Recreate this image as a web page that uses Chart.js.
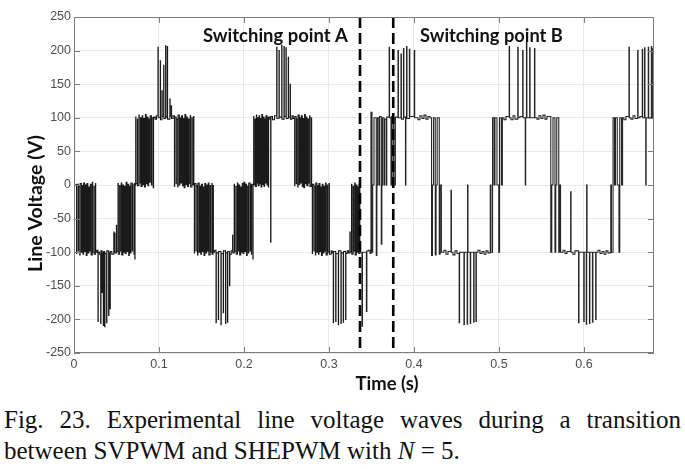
<!DOCTYPE html>
<html><head><meta charset="utf-8">
<script src="https://cdn.jsdelivr.net/npm/chart.js@4.4.1/dist/chart.umd.min.js"></script>
<style>
html,body{margin:0;padding:0;background:#fff;width:685px;height:469px;overflow:hidden;}
#wrap{position:absolute;left:0;top:0;width:685px;height:400px;}
#cap{position:absolute;left:4px;top:404px;width:677px;font-family:'Liberation Serif','Times New Roman',serif;font-size:25px;line-height:31px;color:#111;text-align:justify;text-align-last:left;}
</style></head><body>
<div id="wrap"><canvas id="c" width="685" height="400"></canvas></div>
<div id="cap">Fig. 23. Experimental line voltage waves during a transition between SVPWM and SHEPWM with <i>N</i>&nbsp;=&nbsp;5.</div>
<script>
// ---- data (time in ms, line voltage in V; each pair = level reached at that instant) ----
const xTickValues = [0, 0.1, 0.2, 0.3, 0.4, 0.5, 0.6];
const yTickValues = [-250, -200, -150, -100, -50, 0, 50, 100, 150, 200, 250];
const timeRange = [0, 0.6824];
const voltRange = [-250, 250];
const switchPoints = [0.3365, 0.3756];
const switchLabels = ["Switching point A", "Switching point B"];

const svpwmEdges = [
[0,105],[0.6,0],
[3.0,-102],[3.2,1],[4.9,-98],[5.2,-2],[6.8,-104],[7.2,2],[8.7,-100],[9.3,-1],[10.6,-103],[11.3,3],[12.5,-99],[13.3,0],[14.4,-105],[15.3,2],[16.3,-101],[17.4,-3],[18.2,-98],[19.4,1],[20.1,-104],[21.5,4],[22.0,-100],[23.6,-2],[23.8,-103],[25.3,2],
[25.5,-100],[27.0,-97],[28.2,-203],[28.5,-100],[30.0,-103],[31.4,-206],[31.7,-98],[33.0,-160],[33.2,-101],[34.5,-209],[34.8,-99],[36.1,-211],[36.4,-102],[38.4,-205],[38.7,-98],[40.8,-194],[41.1,-101],[42.4,-184],[42.7,-99],[44.5,-103],[46.8,-70],[47.1,-100],
[48.0,-72],[48.2,-101],[49.9,-60],[50.2,-99],[51.8,2],[52.2,-103],[53.7,-1],[54.2,-98],[55.6,3],[56.2,-104],[57.5,0],[58.2,-100],[59.4,-2],[60.3,-102],[61.3,4],[62.3,-99],[63.2,1],[64.4,-105],[65.1,-2],[66.4,-101],[67.0,3],[68.5,-98],[68.9,0],[70.6,-103],[71.0,2],[71.6,-110],[71.8,0],
[72.6,101],[72.8,2],[74.5,98],[74.8,-1],[76.4,104],[76.8,3],[78.3,100],[78.9,-2],[80.2,103],[80.9,1],[82.1,99],[82.9,-3],[84.0,105],[84.9,2],[85.9,101],[87.0,-1],[87.8,98],[89.0,4],[89.7,103],[91.1,0],[91.6,100],[93.2,-4],[93.6,101],
[95.5,98],[97.0,103],[98.8,205],[99.1,100],[101.5,185],[101.8,97],[103.5,140],[103.8,102],[105.5,178],[105.8,99],[107.8,207],[108.1,101],[109.8,206],[110.1,98],[112.8,128],[113.1,102],[114.5,118],[114.8,99],[116.5,103],
[118.2,-2],[118.4,101],[120.1,2],[120.4,98],[122.0,-3],[122.4,104],[123.9,0],[124.5,100],[125.8,3],[126.5,103],[127.7,-1],[128.5,99],[129.6,-4],[130.5,105],[131.5,1],[132.6,101],[133.4,-2],[134.6,98],[135.3,2],[136.7,103],[137.2,-3],[138.8,100],[139.1,1],[140.6,102],[141.0,0],
[141.6,-101],[141.8,2],[143.5,-98],[143.8,-1],[145.4,-104],[145.8,3],[147.3,-100],[147.9,-2],[149.2,-103],[149.9,1],[151.1,-99],[151.9,-3],[153.0,-105],[153.9,2],[154.9,-101],[156.0,0],[156.8,-98],[158.0,3],[158.7,-104],[160.1,-1],[160.6,-100],[162.2,2],[162.5,-103],[163.6,-1],[164.0,-100],
[165.5,-97],[167.1,-205],[167.4,-101],[169.8,-200],[170.1,-99],[172.9,-208],[173.2,-102],[175.6,-190],[175.9,-98],[178.3,-206],[178.6,-101],[180.6,-204],[180.9,-99],[183.0,-150],[183.3,-103],[185.0,-98],
[186.6,-75],[186.8,-101],[188.5,1],[188.8,-99],[190.4,-2],[190.8,-103],[192.3,3],[192.9,-98],[194.2,0],[194.9,-104],[196.1,-3],[196.9,-100],[198.0,2],[198.9,-102],[199.9,4],[201.0,-99],[201.8,1],[203.0,-105],[203.7,-2],[205.1,-101],[205.6,3],[207.2,-98],[207.5,0],[208.8,-103],[209.0,1],[210.5,-110],[210.7,0],
[211.4,102],[211.6,1],[213.0,98],[213.3,-2],[214.6,104],[215.0,3],[216.2,100],[216.7,-1],[217.8,103],[218.4,2],[219.4,99],[220.1,-3],[221.0,105],[221.8,1],[222.6,101],[223.6,-2],[224.2,98],[225.3,3],[225.8,103],[227.1,0],[227.4,100],[228.7,-3],[229.0,101],
[230.5,98],[231.4,-85],[231.7,102],[233.5,97],[236.0,103],[238.5,205],[238.8,99],[241.2,200],[241.5,101],[244.4,208],[244.7,98],[247.1,206],[247.4,102],[249.4,204],[249.7,99],[252.1,190],[252.4,101],[254.3,150],[254.6,98],[256.5,103],[258.0,99],
[259.6,-1],[259.8,102],[261.4,2],[261.7,98],[263.2,-3],[263.6,104],[265.0,1],[265.6,100],[266.8,3],[267.5,103],[268.6,-2],[269.4,99],[270.4,-4],[271.3,105],[272.2,2],[273.3,101],[274.0,-1],[275.2,98],[275.8,3],[277.2,103],[277.6,-2],[279.2,100],[279.6,1],
[280.4,-102],[280.6,1],[282.2,-98],[282.5,-2],[284.0,-104],[284.4,3],[285.8,-100],[286.4,-1],[287.6,-103],[288.3,2],[289.4,-99],[290.2,-3],[291.2,-105],[292.1,1],[293.0,-101],[294.1,-2],[294.8,-98],[296.0,3],[296.6,-104],[298.0,0],[298.4,-100],[300.0,2],[300.5,-103],
[302.5,-98],[303.8,-101],[305.1,-205],[305.4,-99],[307.9,-203],[308.2,-102],[311.0,-208],[311.3,-98],[314.1,-206],[314.4,-101],[316.8,-204],[317.1,-99],[319.6,-200],[319.9,-102],[321.5,-98],
[323.0,-101],[324.6,-70],[324.9,-100],[326.5,1],[326.9,-103],[328.4,-2],[328.9,-98],[330.3,3],[330.9,-104],[332.2,0],[332.9,-100],[334.1,-3],[334.9,-102],[335.6,2],[336.3,-100]
];

const shepwmEdges = [
[336.5,-101],
[338.82,-210],[339.41,-100],[344.00,-188],[344.59,-98],[346.47,-97],[348.24,-102],
[349.41,108],[350.59,-100],[351.41,0],[352.94,100],[355.65,-105],[356.35,0],[357.18,100],
[358.82,0],[359.53,102],[361.53,-88],[362.24,0],[362.94,100],[364.71,0],[365.41,98],[367.29,0],[368.00,101],
[370.82,205],[371.29,100],[372.94,0],[373.53,102],[375.29,0],[375.88,99],[377.65,0],[378.12,101],
[381.18,200],[381.65,100],[384.71,195],[385.18,98],[387.65,203],[388.12,101],[390.00,0],[390.47,100],
[391.29,206],[391.76,99],[394.59,202],[395.06,102],[400.35,200],[400.82,100],
[404.71,97],[407.06,103],[409.41,99],[411.76,104],[414.12,98],[416.47,102],[418.82,100],
[420.71,-105],[421.76,0],[423.06,100],[425.06,-104],[426.00,0],[427.29,100],[429.76,-103],[430.82,0],[432.24,-100],
[435.29,-97],[437.65,-103],[440.00,-99],[443.53,-8],[444.00,-100],[445.88,-104],[448.24,-98],[450.59,-102],
[453.18,-205],[453.65,-100],[458.82,-208],[459.29,-100],[462.59,-207],[463.06,0],[463.53,-100],
[466.24,-206],[466.71,-100],[470.24,-204],[470.71,-100],[472.94,-203],[473.41,-100],
[475.29,-97],[477.65,-102],[480.00,-99],[482.35,-103],[484.71,-98],[487.06,-101],
[489.76,0],[490.59,-100],[492.47,100],[494.12,0],[495.29,100],[497.65,0],[499.76,-100],[500.71,100],[502.82,0],[504.00,100],
[505.88,97],[508.24,102],[512.00,206],[512.47,100],[514.12,97],[516.47,103],[518.82,98],
[522.12,205],[522.59,100],[524.71,102],[527.88,200],[528.35,100],[530.94,0],[531.41,100],
[532.35,212],[532.82,100],[536.12,204],[536.59,100],[541.76,203],[542.24,100],
[544.71,98],[547.06,103],[549.41,99],[551.76,104],[554.12,98],[556.47,102],
[560.94,-100],[562.12,0],[563.53,100],[565.88,-100],[566.82,0],[568.00,100],[570.35,-100],[571.29,0],[572.47,-100],
[575.29,-97],[577.65,-102],[580.00,-99],[584.35,-10],[584.82,-100],[587.06,-103],[589.41,-98],
[593.65,-205],[594.12,-100],[599.76,-203],[600.24,-100],[602.71,-207],[603.18,0],[603.65,-100],
[606.47,-206],[606.94,-100],[610.00,-204],[610.47,-100],[613.76,-200],[614.24,-100],
[616.47,-97],[618.82,-102],[621.18,-99],[623.53,-103],[625.88,-98],[628.24,-101],
[631.53,0],[632.35,-100],[634.24,100],[635.88,0],[637.06,100],[639.18,0],[641.18,-100],[642.12,100],[644.24,0],[645.41,100],
[647.06,97],[649.41,102],[652.94,205],[653.41,100],[655.29,98],[657.65,103],[660.00,99],
[663.18,200],[663.65,100],[665.88,102],[668.59,202],[669.06,100],[671.29,204],[671.76,100],
[672.71,0],[673.18,100],[675.65,205],[676.12,100],[679.29,206],[679.76,100],[681.18,203],[681.65,100],[682.4,100]
];

// ---- build datasets ----
const toPts = arr => arr.map(p => ({x: p[0] / 1000, y: p[1]}));
const dashSet = t => ({
  data: [{x: t, y: voltRange[1]}, {x: t, y: voltRange[0]}],
  borderColor: '#000', borderWidth: 2.6, borderDash: [11, 5], pointRadius: 0, order: 0, stepped: false
});

const decor = {
  id: 'decor',
  afterDraw(chart) {
    const {ctx, chartArea: a, scales: {x, y}} = chart;
    ctx.save();
    ctx.strokeStyle = '#7d7d7d'; ctx.lineWidth = 1;
    ctx.strokeRect(a.left + 0.5, a.top + 0.5, a.right - a.left - 1, a.bottom - a.top - 1);
    ctx.beginPath();
    xTickValues.forEach(v => { const px = Math.round(x.getPixelForValue(v)) + 0.5;
      ctx.moveTo(px, a.bottom); ctx.lineTo(px, a.bottom - 6); ctx.moveTo(px, a.top); ctx.lineTo(px, a.top + 6); });
    yTickValues.forEach(v => { const py = Math.round(y.getPixelForValue(v)) + 0.5;
      ctx.moveTo(a.left, py); ctx.lineTo(a.left + 6, py); ctx.moveTo(a.right, py); ctx.lineTo(a.right - 6, py); });
    ctx.stroke();
    const fam = 'Lato, "Open Sans", sans-serif';
    const fit = (txt, w) => { ctx.font = 'bold 20px ' + fam; return 20 * w / ctx.measureText(txt).width; };
    ctx.fillStyle = '#111'; ctx.textBaseline = 'alphabetic';
    ctx.textAlign = 'left';
    const sA = fit(switchLabels[0], 145); ctx.font = 'bold ' + sA + 'px ' + fam; ctx.fillText(switchLabels[0], 203, 41.5);
    const sB = fit(switchLabels[1], 143); ctx.font = 'bold ' + sB + 'px ' + fam; ctx.fillText(switchLabels[1], 420, 41.5);
    ctx.textAlign = 'center';
    const sX = fit('Time (s)', 63); ctx.font = 'bold ' + sX + 'px ' + fam; ctx.fillText('Time (s)', 387, 390);
    const sY = fit('Line Voltage (V)', 137); ctx.font = 'bold ' + sY + 'px ' + fam;
    ctx.translate(42, 203.5); ctx.rotate(-Math.PI / 2); ctx.fillText('Line Voltage (V)', 0, 0);
    ctx.restore();
  }
};

Chart.defaults.font.family = '"Liberation Sans", Arial, sans-serif';
new Chart(document.getElementById('c'), {
  type: 'line',
  data: {
    datasets: [
      dashSet(switchPoints[0]), dashSet(switchPoints[1]),
      {data: toPts(svpwmEdges), borderColor: '#1a1a1a', borderWidth: 1.1, stepped: true, pointRadius: 0, order: 1},
      {data: toPts(shepwmEdges), borderColor: '#262626', borderWidth: 1.1, stepped: true, pointRadius: 0, order: 1}
    ]
  },
  options: {
    responsive: false, animation: false, devicePixelRatio: 1,
    layout: {padding: {left: 0, right: 31, top: 17, bottom: 0}},
    plugins: {legend: {display: false}, tooltip: {enabled: false}},
    scales: {
      x: {
        type: 'linear', min: timeRange[0], max: timeRange[1],
        afterBuildTicks: s => { s.ticks = xTickValues.map(v => ({value: v})); },
        afterFit: s => { s.height = 47; },
        grid: {color: '#e9e9e9', drawTicks: false}, border: {display: false},
        ticks: {color: '#4d4d4d', font: {size: 12.5}, padding: 4, maxRotation: 0}
      },
      y: {
        type: 'linear', min: voltRange[0], max: voltRange[1],
        afterBuildTicks: s => { s.ticks = yTickValues.map(v => ({value: v})); },
        afterFit: s => { s.width = 74; },
        grid: {color: '#e9e9e9', drawTicks: false}, border: {display: false},
        ticks: {color: '#4d4d4d', font: {size: 12.5}, padding: 3}
      }
    }
  },
  plugins: [decor]
});
</script>
</body></html>
